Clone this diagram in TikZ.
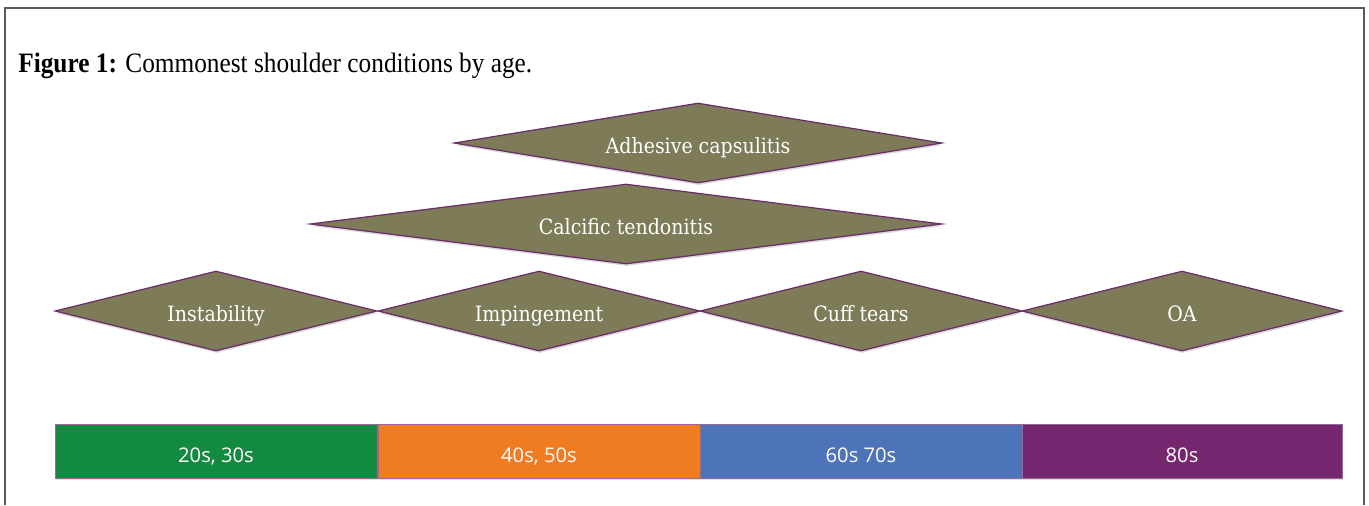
\documentclass[tikz,border=0pt]{standalone}
\usepackage{fontspec}
\setmainfont{Liberation Serif}
\newfontfamily\capfont[FakeStretch=0.9]{Liberation Serif}
\newfontfamily\slabfont{DejaVu Serif Condensed}
\newfontfamily\barfont{Open Sans}
\usetikzlibrary{shapes.geometric,shadows}

\definecolor{olive}{HTML}{7E7B58}
\definecolor{rim}{HTML}{6B2C6B}
\definecolor{agegreen}{HTML}{138A42}
\definecolor{ageorange}{HTML}{F07C22}
\definecolor{ageblue}{HTML}{4D74B9}
\definecolor{agepurple}{HTML}{74266F}

\begin{document}
\begin{tikzpicture}[x=0.02cm,y=-0.02cm]
\tikzstyle{cond}=[diamond,draw=rim,fill=olive,line width=0.7pt,inner sep=0pt,
  aspect=4,minimum height=1.6cm,text=white,font=\slabfont\fontsize{12}{14}\selectfont,
  text height=11.6pt,text depth=0pt,
  drop shadow={opacity=0.3,shadow xshift=0.4pt,shadow yshift=-1.2pt}]
\tikzstyle{agebar}=[rectangle,draw=rim!70,line width=0.5pt,inner sep=0pt,
  minimum width=6.44cm,minimum height=1.08cm,text=white!92!pink,
  font=\barfont\fontsize{11.5}{13}\selectfont,text height=13.2pt,text depth=0pt,
  drop shadow={opacity=0.25,shadow xshift=0.3pt,shadow yshift=-1.2pt}]
\useasboundingbox (0,0) rectangle (1369,505);
% frame
\draw[gray!70!black,line width=1.2pt] (5,505) -- (5,8) -- (1364,8) -- (1364,505);
\node[anchor=base west,font=\capfont\fontsize{16}{19}\selectfont,inner sep=0pt] (caption) at (18,72)
  {\textbf{Figure 1:} Commonest shoulder conditions by age.};
% conditions
\node[cond,aspect=6.1,minimum width=9.76cm] (adh) at (698,143) {Adhesive capsulitis};
\node[cond,aspect=7.9,minimum width=12.64cm] (calc) at (626,224) {Calcific tendonitis};
\node[cond,minimum width=6.44cm] (inst) at (216,311) {Instability};
\node[cond,minimum width=6.44cm] (imp) at (539,311) {Impingement};
\node[cond,minimum width=6.44cm] (cuff) at (861,311) {Cuff tears};
\node[cond,minimum width=6.4cm] (oa) at (1182,311) {OA};
% age bands
\node[agebar,fill=agegreen] (age1) at (216,451) {20s, 30s};
\node[agebar,fill=ageorange] (age2) at (539,451) {40s, 50s};
\node[agebar,fill=ageblue] (age3) at (861,451) {60s 70s};
\node[agebar,fill=agepurple,minimum width=6.4cm] (age4) at (1182,451) {80s};
\end{tikzpicture}
\end{document}
